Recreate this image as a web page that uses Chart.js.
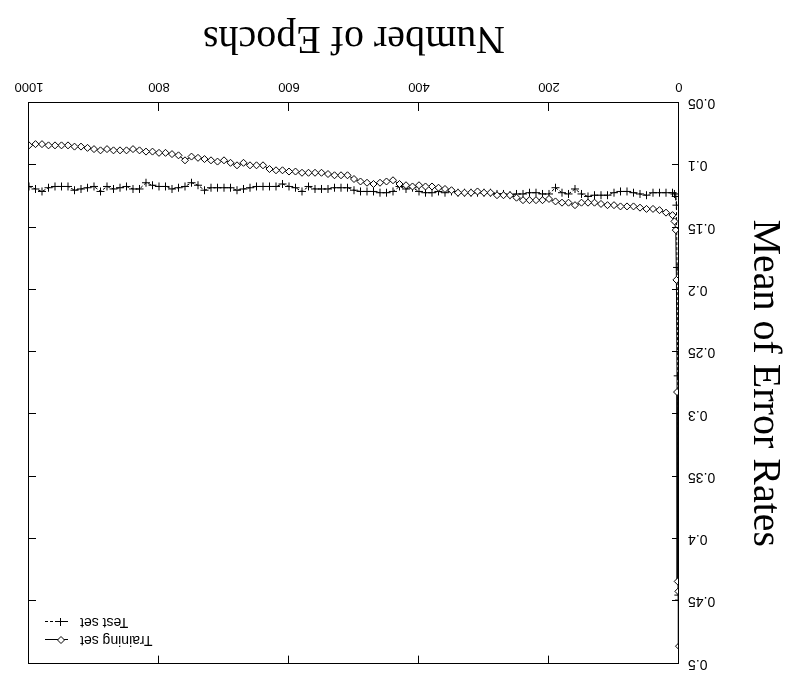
<!DOCTYPE html>
<html>
<head>
<meta charset="utf-8">
<script src="https://cdn.jsdelivr.net/npm/chart.js@4/dist/chart.umd.min.js"></script>
<style>
    html, body { margin: 0; padding: 0; background: #fff; }
    #errChart { display: block; transform: rotate(180deg); }
</style>
</head>
<body>
<canvas id="errChart" width="785" height="681"></canvas>
<script>
(function () {
    'use strict';

    var epochs = [0, 1, 2, 3, 4, 5, 7, 10,
        20, 30, 40, 50, 60, 70, 80, 90, 100, 110,
        120, 130, 140, 150, 160, 170, 180, 190, 200, 210,
        220, 230, 240, 250, 260, 270, 280, 290, 300, 310,
        320, 330, 340, 350, 360, 370, 380, 390, 400, 410,
        420, 430, 440, 450, 460, 470, 480, 490, 500, 510,
        520, 530, 540, 550, 560, 570, 580, 590, 600, 610,
        620, 630, 640, 650, 660, 670, 680, 690, 700, 710,
        720, 730, 740, 750, 760, 770, 780, 790, 800, 810,
        820, 830, 840, 850, 860, 870, 880, 890, 900, 910,
        920, 930, 940, 950, 960, 970, 980, 990, 1000];

    var trainingSet = [0.486, 0.442, 0.434, 0.282, 0.192, 0.152, 0.145, 0.140,
        0.138, 0.136, 0.135, 0.135, 0.134, 0.133, 0.133, 0.133, 0.132, 0.132,
        0.131, 0.130, 0.130, 0.130, 0.132, 0.130, 0.130, 0.129, 0.127, 0.128,
        0.128, 0.128, 0.128, 0.126, 0.124, 0.124, 0.124, 0.122, 0.122, 0.121,
        0.122, 0.122, 0.122, 0.120, 0.119, 0.118, 0.117, 0.117, 0.116, 0.117,
        0.116, 0.115, 0.112, 0.113, 0.114, 0.115, 0.114, 0.113, 0.111, 0.108,
        0.108, 0.108, 0.107, 0.106, 0.106, 0.106, 0.106, 0.105, 0.105, 0.104,
        0.104, 0.103, 0.100, 0.100, 0.100, 0.098, 0.100, 0.098, 0.096, 0.097,
        0.096, 0.095, 0.094, 0.093, 0.096, 0.092, 0.091, 0.090, 0.090, 0.089,
        0.089, 0.088, 0.087, 0.088, 0.088, 0.088, 0.087, 0.088, 0.087, 0.086,
        0.085, 0.085, 0.084, 0.084, 0.084, 0.084, 0.083, 0.083, 0.084];

    var testSet = [0.449, 0.445, 0.269, 0.182, 0.132, 0.125, 0.123, 0.122,
        0.122, 0.122, 0.122, 0.124, 0.123, 0.122, 0.121, 0.121, 0.122, 0.124,
        0.124, 0.124, 0.125, 0.123, 0.119, 0.123, 0.122, 0.118, 0.123, 0.123,
        0.122, 0.122, 0.123, 0.123, 0.124, 0.123, 0.123, 0.122, 0.122, 0.122,
        0.122, 0.122, 0.122, 0.121, 0.122, 0.121, 0.122, 0.122, 0.121, 0.118,
        0.119, 0.117, 0.121, 0.122, 0.122, 0.121, 0.121, 0.121, 0.120, 0.118,
        0.118, 0.118, 0.119, 0.119, 0.119, 0.117, 0.121, 0.118, 0.117, 0.115,
        0.117, 0.117, 0.117, 0.117, 0.118, 0.119, 0.120, 0.118, 0.118, 0.118,
        0.118, 0.120, 0.116, 0.114, 0.117, 0.118, 0.119, 0.117, 0.117, 0.116,
        0.114, 0.119, 0.119, 0.117, 0.118, 0.119, 0.117, 0.121, 0.117, 0.118,
        0.119, 0.120, 0.117, 0.117, 0.117, 0.118, 0.121, 0.119, 0.117];

    var seriesNames = ['Training set', 'Test set'];
    var xTitle = 'Number of Epochs';
    var yTitle = 'Mean of Error Rates';

    function toPoints(values) {
        return epochs.map(function (e, i) {
            return { 'x': e, 'y': values[i] };
        });
    }

    // gnuplot style frame with inward ticks on all four sides
    var framePlugin = {
        'id': 'frame',
        'afterDatasetsDraw': function (chart) {
            var ctx = chart.ctx;
            var a = chart.chartArea;
            var xs = chart.scales.x;
            var ys = chart.scales.y;

            ctx.save();
            ctx.strokeStyle = '#000';
            ctx.lineWidth = 1;
            ctx.strokeRect(Math.round(a.left) + 0.5, Math.round(a.top) + 0.5,
                Math.round(a.right - a.left), Math.round(a.bottom - a.top));

            ctx.beginPath();
            xs.ticks.forEach(function (t) {
                var px = Math.round(xs.getPixelForValue(t.value)) + 0.5;
                if (px <= a.left + 1 || px >= a.right - 1) return;
                ctx.moveTo(px, a.bottom);
                ctx.lineTo(px, a.bottom - 8);
                ctx.moveTo(px, a.top);
                ctx.lineTo(px, a.top + 8);
            });
            ys.ticks.forEach(function (t) {
                var py = Math.round(ys.getPixelForValue(t.value)) + 0.5;
                if (py <= a.top + 1 || py >= a.bottom - 1) return;
                ctx.moveTo(a.left, py);
                ctx.lineTo(a.left + 7, py);
                ctx.moveTo(a.right, py);
                ctx.lineTo(a.right - 7, py);
            });
            ctx.stroke();
            ctx.restore();
        }
    };

    // key in the corner, text right-justified with the sample after it
    var keyPlugin = {
        'id': 'key',
        'afterDraw': function (chart) {
            var ctx = chart.ctx;
            var a = chart.chartArea;
            var textRight = a.right - 51;
            var lineL = a.right - 39;
            var lineR = a.right - 16;
            var mk = lineL + 7;

            ctx.save();
            ctx.font = '14px "Liberation Sans", Arial, sans-serif';
            ctx.fillStyle = '#000';
            ctx.textAlign = 'right';
            ctx.textBaseline = 'middle';
            ctx.strokeStyle = '#000';
            ctx.lineWidth = 1;

            chart.data.datasets.forEach(function (ds, i) {
                var y = Math.round(a.top + 24 + i * 18);
                ctx.fillText(ds.label, textRight, y);
                ctx.beginPath();
                ctx.setLineDash(ds.borderDash || []);
                ctx.moveTo(lineL, y + 0.5);
                ctx.lineTo(lineR, y + 0.5);
                ctx.stroke();
                ctx.setLineDash([]);
                ctx.beginPath();
                if (ds.pointStyle === 'rectRot') {
                    ctx.fillStyle = '#fff';
                    ctx.moveTo(mk, y - 3.5);
                    ctx.lineTo(mk + 3.5, y);
                    ctx.lineTo(mk, y + 3.5);
                    ctx.lineTo(mk - 3.5, y);
                    ctx.closePath();
                    ctx.fill();
                    ctx.stroke();
                    ctx.fillStyle = '#000';
                } else {
                    ctx.moveTo(mk - 4, y + 0.5);
                    ctx.lineTo(mk + 4, y + 0.5);
                    ctx.moveTo(mk + 0.5, y - 4);
                    ctx.lineTo(mk + 0.5, y + 4);
                    ctx.stroke();
                }
            });
            ctx.restore();
        }
    };

    new Chart(document.getElementById('errChart'), { //eslint-disable-line
        'type': 'line',
        'data': {
            'datasets': [{
                'label': seriesNames[0],
                'data': toPoints(trainingSet),
                'borderColor': '#000',
                'borderWidth': 1,
                'pointStyle': 'rectRot',
                'pointRadius': 3.5,
                'pointBorderWidth': 1,
                'pointBorderColor': '#000',
                'pointBackgroundColor': '#fff',
                'tension': 0
            }, {
                'label': seriesNames[1],
                'data': toPoints(testSet),
                'borderColor': '#000',
                'borderWidth': 1,
                'borderDash': [3, 2],
                'pointStyle': 'cross',
                'pointRadius': 4,
                'pointBorderWidth': 1,
                'pointBorderColor': '#000',
                'tension': 0
            }]
        },
        'options': {
            'responsive': false,
            'animation': false,
            'layout': {
                'padding': { 'top': 16, 'right': 29, 'left': 0, 'bottom': 0 }
            },
            'plugins': {
                'legend': { 'display': false },
                'tooltip': { 'enabled': false }
            },
            'scales': {
                'x': {
                    'type': 'linear',
                    'min': 0,
                    'max': 1000,
                    'afterFit': function (s) { s.height = 103; },
                    'grid': { 'display': false, 'drawTicks': false },
                    'border': { 'display': false },
                    'ticks': {
                        'stepSize': 200,
                        'padding': 9,
                        'color': '#000',
                        'maxRotation': 0,
                        'font': { 'family': '"Liberation Sans", Arial, sans-serif', 'size': 13 },
                        'callback': function (v) { return String(v); }
                    },
                    'title': {
                        'display': true,
                        'text': xTitle,
                        'color': '#000',
                        'padding': { 'top': 4, 'bottom': 18 },
                        'font': { 'family': '"Liberation Serif", "Times New Roman", serif', 'size': 40, 'lineHeight': 1 }
                    }
                },
                'y': {
                    'type': 'linear',
                    'min': 0.05,
                    'max': 0.5,
                    'afterFit': function (s) { s.width = 106; },
                    'grid': { 'display': false, 'drawTicks': false },
                    'border': { 'display': false },
                    'ticks': {
                        'stepSize': 0.05,
                        'padding': 9,
                        'color': '#000',
                        'font': { 'family': '"Liberation Sans", Arial, sans-serif', 'size': 14 },
                        'callback': function (v) { return String(Math.round(v * 100) / 100); }
                    },
                    'title': {
                        'display': true,
                        'text': yTitle,
                        'color': '#000',
                        'padding': { 'top': 0, 'bottom': 4 },
                        'font': { 'family': '"Liberation Serif", "Times New Roman", serif', 'size': 40, 'lineHeight': 1 }
                    }
                }
            }
        },
        'plugins': [framePlugin, keyPlugin]
    });
}());
</script>
</body>
</html>
